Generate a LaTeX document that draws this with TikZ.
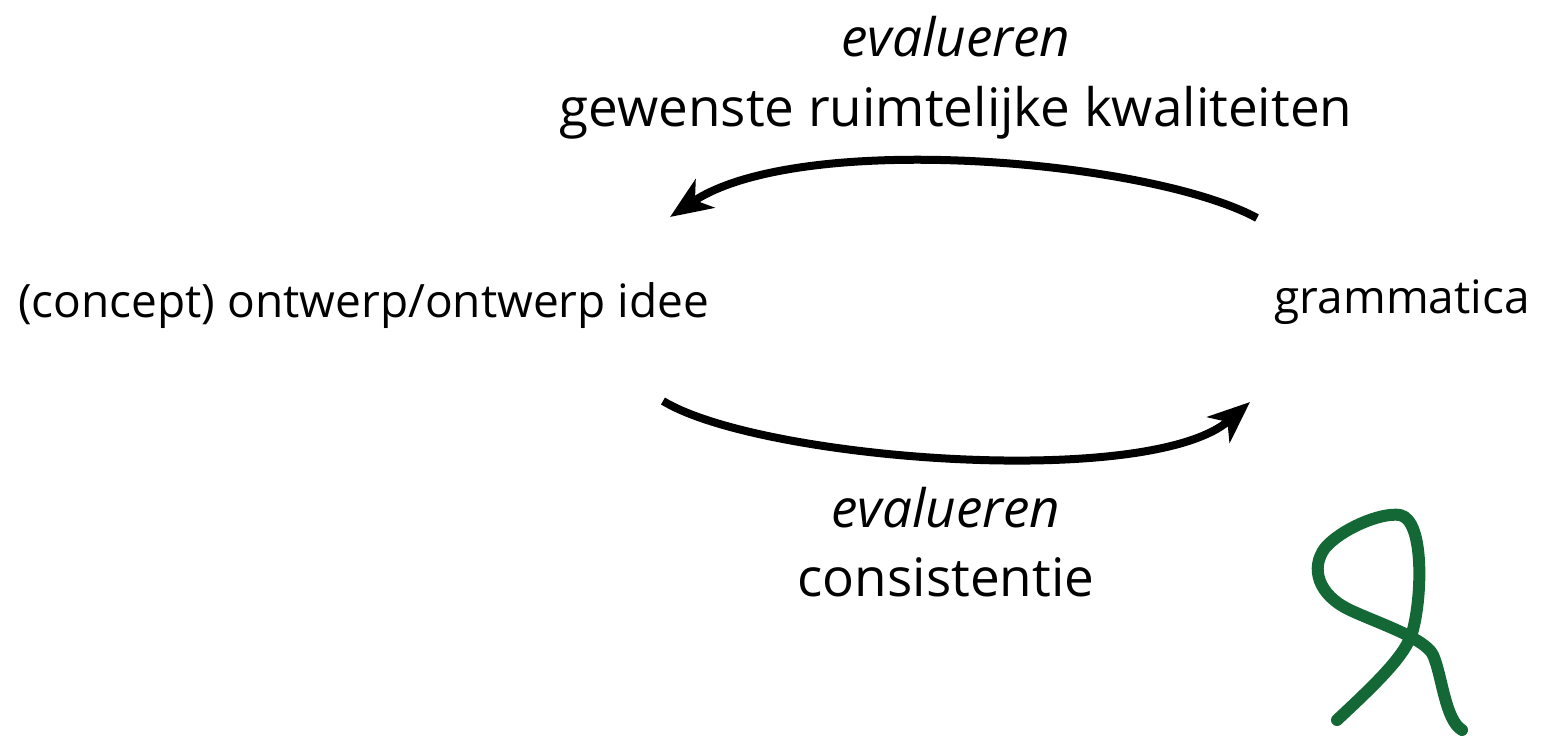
\documentclass[tikz,border=0pt]{standalone}
\usepackage{fontspec}
\setmainfont{Open Sans}
\usetikzlibrary{arrows.meta}
\definecolor{sgreen}{RGB}{20,104,54}
\begin{document}
\begin{tikzpicture}[x=1pt,y=-1pt,
  lbl/.style={font=\fontsize{53}{60}\selectfont, inner sep=0pt, anchor=base},
  side/.style={lbl, font=\fontsize{46}{52}\selectfont},
  flow/.style={line width=8pt, -{Stealth[length=42pt,width=34pt,inset=12pt]}}]
\useasboundingbox (0,0) rectangle (1558,737);
\node[lbl] (ev1) at (956,56) {\itshape evalueren};
\node[lbl] (gw) at (956,126) {gewenste ruimtelijke kwaliteiten};
\node[side, anchor=base west] (concept) at (18,317) {(concept) ontwerp/ontwerp idee};
\node[side, anchor=base east] (gram) at (1530,313) {grammatica};
\node[lbl] (ev2) at (946,527) {\itshape evalueren};
\node[lbl] (cons) at (946,596) {consistentie};
\coordinate (a1s) at (1257,218);
\coordinate (a1e) at (670,217);
\coordinate (a2s) at (663,401);
\coordinate (a2e) at (1250,402);
\draw[flow] (a1s) .. controls (1150,160) and (800,130) .. (a1e);
\draw[flow] (a2s) .. controls (760,460) and (1150,490) .. (a2e);
\draw[sgreen, line width=12pt, line cap=round, line join=round]
  (1337,720) .. controls (1380,680) and (1405,655) .. (1412,633)
  .. controls (1422,600) and (1425,520) .. (1400,515)
  .. controls (1380,512) and (1340,530) .. (1325,548)
  .. controls (1310,568) and (1318,595) .. (1350,610)
  .. controls (1375,622) and (1425,638) .. (1433,655)
  .. controls (1442,675) and (1445,720) .. (1462,730);
\end{tikzpicture}
\end{document}
